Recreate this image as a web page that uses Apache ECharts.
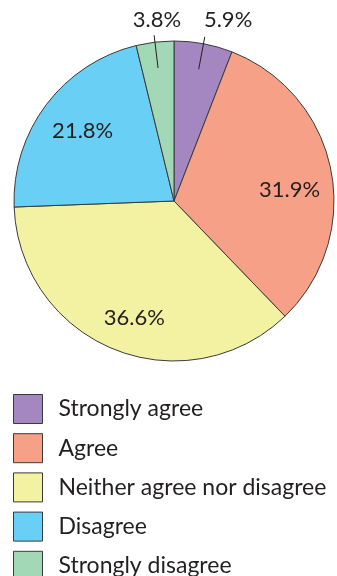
<!DOCTYPE html>
<html>
<head>
<meta charset="utf-8">
<script src="https://cdn.jsdelivr.net/npm/echarts@6/dist/echarts.min.js"></script>
<style>
  html, body { margin: 0; padding: 0; background: #ffffff; }
  #chart { width: 337px; height: 576px; }
</style>
</head>
<body>
<div id="chart"></div>
<script>
// Survey responses, share of respondents (%)
const categories = ['Strongly agree', 'Agree', 'Neither agree nor disagree', 'Disagree', 'Strongly disagree'];
const shares = [5.9, 31.9, 36.6, 21.8, 3.8];
const colors = ['#a487c0', '#f7a088', '#f3f1a2', '#69cff5', '#a3d8b6'];
// thin slices get their label outside, with a leader line
const outsideLabel = [true, false, false, false, true];

const font = 'Lato, "Open Sans", sans-serif';
const ink = '#231f20';
const center = [174, 201];
const pct = p => p.value.toFixed(1) + '%';

// small nudges so the percentages sit in the open part of each slice
const insideNudge = { 1: { dx: -4, dy: 13 }, 2: { dx: 6, dy: 4 }, 3: { dx: 6, dy: 3 } };
// and for the labels above the thin slices
const outsideNudge = { 0: { dx: 20, dy: 1 }, 4: { dx: 5, dy: 3 } };

const chart = echarts.init(document.getElementById('chart'), null, { renderer: 'canvas' });

const slices = categories.map((name, i) => ({
  name, value: shares[i], itemStyle: { color: colors[i] }
}));

// one data list per label layer; `pick` says which slices this layer labels
const labelSlices = (pick) => categories.map((name, i) => ({
  name, value: shares[i],
  label: { show: pick(i) },
  labelLine: { show: pick(i) }
}));

const hiddenStyle = { color: 'rgba(0,0,0,0)', borderWidth: 0 };
const layer = {
  type: 'pie',
  z: 5,
  center: center,
  startAngle: 90,
  silent: true,
  legendHoverLink: false,
  avoidLabelOverlap: false,
  itemStyle: hiddenStyle
};

chart.setOption({
  animation: false,
  color: colors,
  legend: {
    orient: 'vertical',
    left: 13,
    top: 394,
    height: 200,
    padding: 0,
    itemWidth: 29,
    itemHeight: 29,
    itemGap: 9.2,
    icon: 'rect',
    selectedMode: false,
    itemStyle: { borderColor: '#3a3a3a', borderWidth: 1 },
    textStyle: { fontFamily: font, fontSize: 23, color: ink, padding: [0, 0, 0, 11] },
    data: categories
  },
  series: [
    {
      type: 'pie',
      z: 2,
      center: center,
      radius: [0, 160],
      startAngle: 90,
      clockwise: true,
      silent: true,
      label: { show: false },
      labelLine: { show: false },
      itemStyle: { borderColor: '#3a3a3a', borderWidth: 1 },
      data: slices
    },
    Object.assign({}, layer, {
      // percentages inside the wide slices
      radius: [78, 160],
      label: { position: 'inside', formatter: pct, fontFamily: font, fontSize: 22, color: ink },
      labelLayout: p => insideNudge[p.dataIndex] || {},
      data: labelSlices(i => !outsideLabel[i])
    }),
    Object.assign({}, layer, {
      // straight leader lines running out of the thin slices
      radius: [0, 134],
      label: { position: 'outside', formatter: pct, fontFamily: font, fontSize: 22, color: 'rgba(0,0,0,0)' },
      labelLine: { length: 33, length2: 0, lineStyle: { color: ink, width: 1 } },
      data: labelSlices(i => outsideLabel[i])
    }),
    Object.assign({}, layer, {
      // percentages for the thin slices, on a ring just outside the pie
      radius: [170, 194],
      label: { position: 'inside', formatter: pct, fontFamily: font, fontSize: 22, color: ink },
      labelLayout: p => outsideNudge[p.dataIndex] || {},
      data: labelSlices(i => outsideLabel[i])
    })
  ]
});
</script>
</body>
</html>
